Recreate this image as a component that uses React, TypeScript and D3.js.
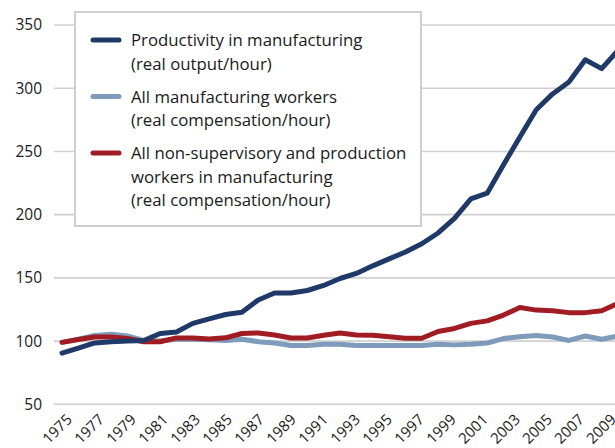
import React, { useEffect, useRef } from 'react'
import * as d3 from 'd3'

// years on the x axis
const years = [
  1975, 1976, 1977, 1978, 1979, 1980, 1981, 1982, 1983, 1984, 1985, 1986,
  1987, 1988, 1989, 1990, 1991, 1992, 1993, 1994, 1995, 1996, 1997, 1998,
  1999, 2000, 2001, 2002, 2003, 2004, 2005, 2006, 2007, 2008, 2009,
]
const yearLabels = [
  1975, 1977, 1979, 1981, 1983, 1985, 1987, 1989, 1991, 1993, 1995, 1997,
  1999, 2001, 2003, 2005, 2007, 2009,
]
const yTicks = [50, 100, 150, 200, 250, 300, 350]

// productivity in manufacturing (real output/hour)
const productivity = [
  90.5, 94.5, 98.5, 99.5, 100, 100.5, 106, 107.2, 114, 117.5, 121, 122.8,
  132.5, 138, 138, 140, 144, 149.5, 153.5, 159.5, 165, 170.5, 177, 185.5,
  197, 212.5, 217, 239.5, 261.5, 283, 295.5, 305, 322.5, 315.5, 330,
]
// all manufacturing workers (real compensation/hour)
const allWorkers = [
  99, 101.5, 104.5, 105.5, 104, 100.5, 100, 101.5, 101.5, 101, 100.5, 101.5,
  99.5, 98.5, 96.5, 96.5, 97.5, 97.5, 96.5, 96.5, 96.5, 96.5, 96.5, 97.5,
  97, 97.5, 98.5, 102, 103.5, 104.5, 103.2, 100.5, 104, 101.5, 104,
]
// non-supervisory and production workers (real compensation/hour)
const nonSupervisory = [
  99, 101.2, 103.2, 103.2, 102, 99.5, 99.5, 102.5, 102.5, 101.6, 102.6, 106,
  106.4, 104.8, 102.4, 102.4, 104.6, 106.4, 104.8, 104.6, 103.4, 102.2, 102.2, 107.6,
  110, 114, 116, 120.6, 126.5, 124.5, 124, 122.5, 122.5, 124, 129.8,
]

const seriesNames = [
  ['Productivity in manufacturing', '(real output/hour)'],
  ['All manufacturing workers', '(real compensation/hour)'],
  ['All non-supervisory and production', 'workers in manufacturing', '(real compensation/hour)'],
]
const colors = ['#1f3a68', '#7f9bbb', '#a11c22']

export default function App() {
  const ref = useRef<SVGSVGElement>(null)

  useEffect(() => {
    const width = 615
    const height = 448
    const svg = d3.select(ref.current)
    svg.selectAll('*').remove()
    svg.attr('width', width).attr('height', height)

    const font = '"Open Sans", sans-serif'
    const gridColor = '#d0d0d0'

    const x = d3.scaleLinear().domain([1975, 2009]).range([62, 618])
    // rotated labels sit a bit tighter than the points
    const xLabel = d3.scaleLinear().domain([1975, 2009]).range([73, 617])
    const y = d3.scaleLinear().domain([50, 350]).range([404.3, 25])

    // gridlines (the 50 line doubles as the axis)
    svg.append('g')
      .selectAll('line')
      .data(yTicks)
      .enter()
      .append('line')
      .attr('x1', 54)
      .attr('x2', width)
      .attr('y1', d => y(d))
      .attr('y2', d => y(d))
      .attr('stroke', gridColor)
      .attr('stroke-width', 1.6)

    svg.append('g')
      .selectAll('text')
      .data(yTicks)
      .enter()
      .append('text')
      .attr('x', 42)
      .attr('y', d => y(d))
      .attr('dy', '0.35em')
      .attr('text-anchor', 'end')
      .style('font-family', font)
      .style('font-size', '15.5px')
      .attr('fill', '#1a1a1a')
      .text(d => d)

    svg.append('g')
      .selectAll('text')
      .data(yearLabels)
      .enter()
      .append('text')
      .attr('transform', d => `translate(${xLabel(d)},420.5) rotate(-45)`)
      .attr('text-anchor', 'end')
      .style('font-family', font)
      .style('font-size', '15px')
      .attr('fill', '#1a1a1a')
      .text(d => d)

    const line = d3.line<number>()
      .x((d, i) => x(years[i]))
      .y(d => y(d))

    const series = [allWorkers, nonSupervisory, productivity]
    const seriesColors = [colors[1], colors[2], colors[0]]
    series.forEach((s, i) => {
      svg.append('path')
        .datum(s)
        .attr('d', line)
        .attr('fill', 'none')
        .attr('stroke', seriesColors[i])
        .attr('stroke-width', 5)
        .attr('stroke-linejoin', 'round')
        .attr('stroke-linecap', 'round')
    })

    // legend
    const legend = svg.append('g')
    legend.append('rect')
      .attr('x', 75)
      .attr('y', 12)
      .attr('width', 346)
      .attr('height', 214)
      .attr('fill', '#fff')
      .attr('stroke', '#cfcfcf')
      .attr('stroke-width', 2)

    const rowTop = [46, 102.5, 159]
    seriesNames.forEach((lines, i) => {
      legend.append('line')
        .attr('x1', 93)
        .attr('x2', 119)
        .attr('y1', rowTop[i] - 6)
        .attr('y2', rowTop[i] - 6)
        .attr('stroke', colors[i])
        .attr('stroke-width', 5)
        .attr('stroke-linecap', 'round')
      lines.forEach((t, j) => {
        legend.append('text')
          .attr('x', 131)
          .attr('y', rowTop[i] + j * 23.5)
          .style('font-family', font)
          .style('font-size', '16.8px')
          .attr('fill', '#1a1a1a')
          .text(t)
      })
    })
  }, [])

  return (
    <>
      <style>{'body{margin:0}'}</style>
      <svg ref={ref} style={{ display: 'block' }}></svg>
    </>
  )
}
